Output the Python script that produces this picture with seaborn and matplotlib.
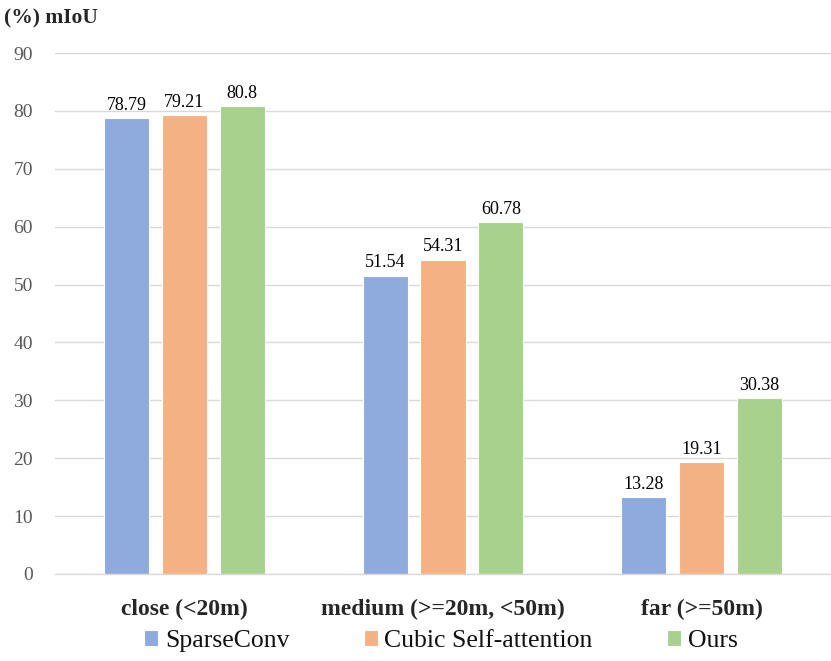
import matplotlib
matplotlib.use("Agg")
import matplotlib.pyplot as plt
import seaborn as sns
import pandas as pd

categories = ["close (<20m)", "medium (>=20m, <50m)", "far (>=50m)"]
methods = ["SparseConv", "Cubic Self-attention", "Ours"]
sparseconv = [78.79, 51.54, 13.28]
cubic = [79.21, 54.31, 19.31]
ours = [80.8, 60.78, 30.38]
colors = ["#8FAADC", "#F4B183", "#A9D18E"]

rows = []
for m, vals in zip(methods, [sparseconv, cubic, ours]):
    for c, v in zip(categories, vals):
        rows.append({"category": c, "method": m, "value": v})
df = pd.DataFrame(rows)

sns.set_theme(style="white")
plt.rcParams["font.family"] = ["Liberation Serif", "DejaVu Serif"]

fig = plt.figure(figsize=(8.31, 6.61), dpi=100)
ax = fig.add_axes([55/831, 1-574/661, 1-55/831, (574-53)/661])

sns.barplot(data=df, x="category", y="value", hue="method", order=categories,
            hue_order=methods, palette=colors, width=0.67, gap=0.22,
            saturation=1, ax=ax, legend=True, edgecolor="white", linewidth=0.8)

for cont in ax.containers:
    labels = [("%g" % b.get_height()) for b in cont]
    ax.bar_label(cont, labels=labels, padding=3, fontsize=13, color="black")

ax.set_ylim(0, 90)
ax.set_xlim(-0.5, 2.5)
ax.set_yticks(range(0, 91, 10))
ax.yaxis.grid(True, color="#D9D9D9", linewidth=1)
ax.set_axisbelow(True)
for s in ["top", "right", "left"]:
    ax.spines[s].set_visible(False)
ax.spines["bottom"].set_color("#D9D9D9")
ax.spines["bottom"].set_linewidth(1)
ax.tick_params(axis="y", labelsize=14, labelcolor="#595959", length=0, pad=16)
ax.tick_params(axis="x", length=0, pad=18)
for t in ax.get_xticklabels():
    t.set_fontsize(17)
    t.set_fontweight("bold")
ax.set_xlabel("")
ax.set_ylabel("")

fig.text(4/831, 1-18/661, "(%) mIoU", fontsize=15.5, fontweight="bold", va="center", ha="left")

leg = ax.get_legend()
handles = leg.legend_handles
leg.remove()
fig.legend(handles, methods, loc="center", bbox_to_anchor=(441/831, 1-641/661), ncol=3,
           frameon=False, fontsize=18.5, handlelength=0.55, handleheight=0.55,
           handletextpad=0.25, columnspacing=2.9, labelcolor="#111111",
           borderpad=0, borderaxespad=0)

fig.savefig("out.png", dpi=100)
